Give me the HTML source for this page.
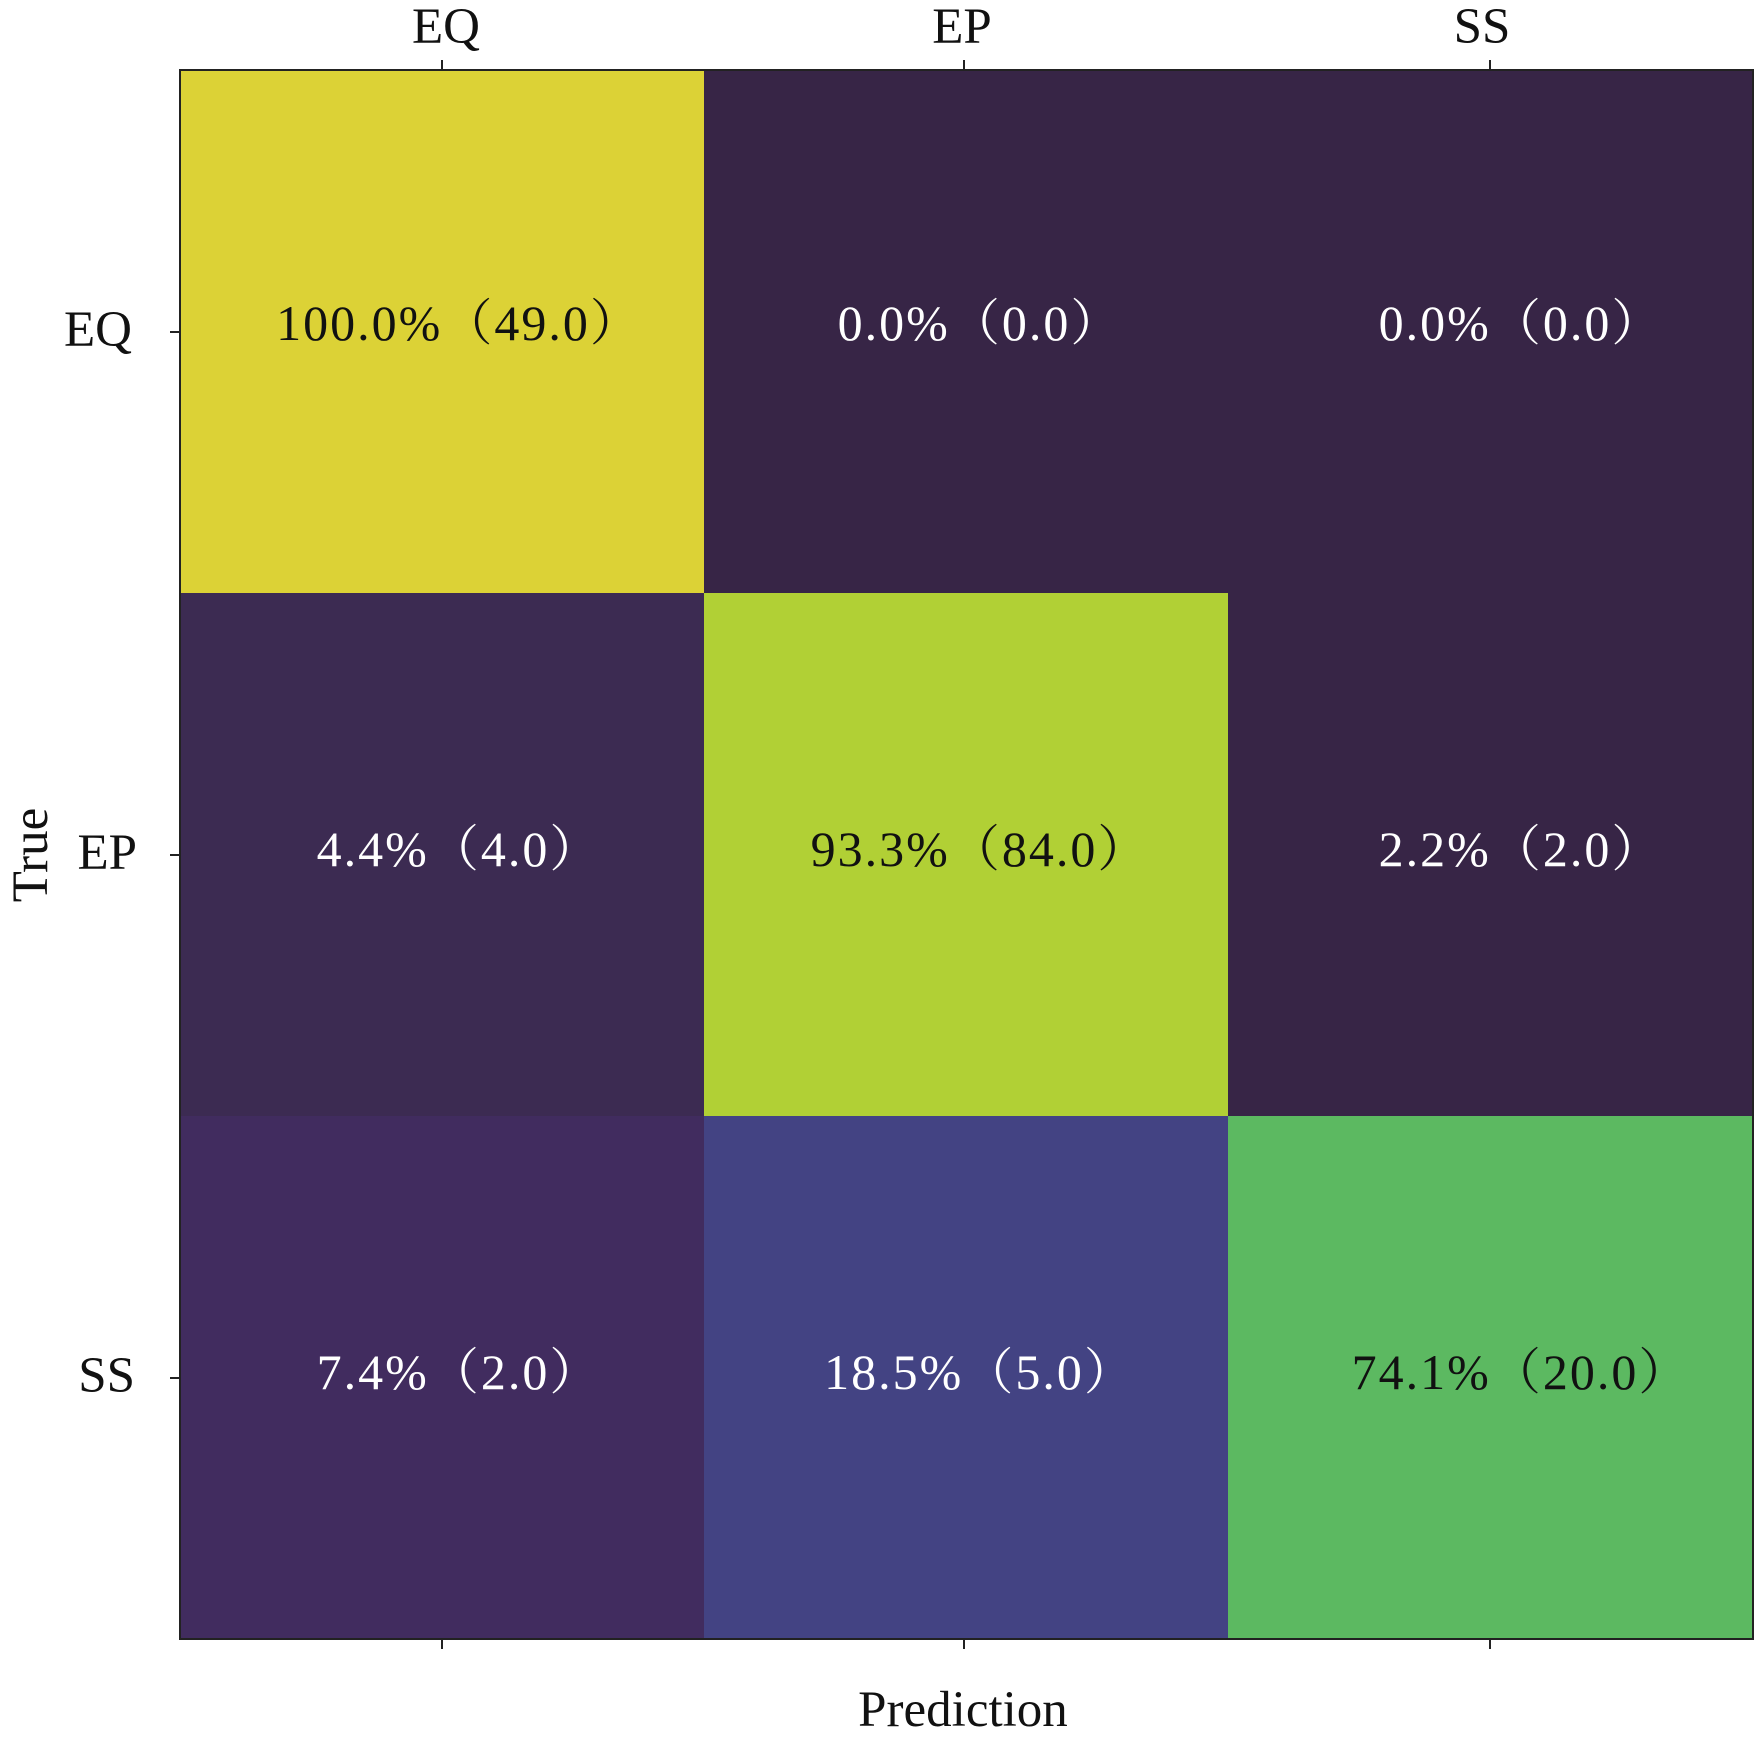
<!DOCTYPE html>
<html><head><meta charset="utf-8"><style>html,body{margin:0;padding:0;background:#fff;}svg{display:block}</style></head>
<body>
<svg width="1757" height="1742" viewBox="0 0 1757 1742" xmlns="http://www.w3.org/2000/svg" font-family="'Liberation Serif','Noto Serif CJK SC',serif">
<rect x="180" y="70" width="525" height="524" fill="#dcd236"/>
<rect x="704" y="70" width="525" height="524" fill="#372546"/>
<rect x="1228" y="70" width="525" height="524" fill="#372546"/>
<rect x="180" y="593" width="525" height="524" fill="#3c2b52"/>
<rect x="704" y="593" width="525" height="524" fill="#b1d035"/>
<rect x="1228" y="593" width="525" height="524" fill="#372546"/>
<rect x="180" y="1116" width="525" height="524" fill="#412c5f"/>
<rect x="704" y="1116" width="525" height="524" fill="#434383"/>
<rect x="1228" y="1116" width="525" height="524" fill="#5cb961"/>
<rect x="180" y="70" width="1573" height="1569" fill="none" stroke="#222" stroke-width="2"/>
<g stroke="#222" stroke-width="2">
<line x1="442" y1="60" x2="442" y2="70"/><line x1="964" y1="60" x2="964" y2="70"/><line x1="1490" y1="60" x2="1490" y2="70"/>
<line x1="442" y1="1639" x2="442" y2="1649"/><line x1="964" y1="1639" x2="964" y2="1649"/><line x1="1490" y1="1639" x2="1490" y2="1649"/>
<line x1="170" y1="332" x2="180" y2="332"/><line x1="170" y1="855" x2="180" y2="855"/><line x1="170" y1="1378" x2="180" y2="1378"/>
</g>
<g font-size="51" fill="#111" text-anchor="middle">
<text x="446" y="43">EQ</text><text x="962" y="43">EP</text><text x="1482" y="43">SS</text>
</g>
<g font-size="51" fill="#111" text-anchor="end">
<text x="132" y="346">EQ</text><text x="137" y="869">EP</text><text x="135" y="1392">SS</text>
</g>
<text x="963" y="1726" font-size="51" fill="#111" text-anchor="middle">Prediction</text>
<text transform="translate(47,855) rotate(-90)" font-size="51" fill="#111" text-anchor="middle">True</text>
<g font-size="50" text-anchor="middle" letter-spacing="2">
<text x="459" y="340" fill="#111">100.0%（49.0）</text>
<text x="980" y="340" fill="#fff">0.0%（0.0）</text>
<text x="1521" y="340" fill="#fff">0.0%（0.0）</text>
<text x="459" y="866" fill="#fff">4.4%（4.0）</text>
<text x="980" y="866" fill="#111">93.3%（84.0）</text>
<text x="1521" y="866" fill="#fff">2.2%（2.0）</text>
<text x="459" y="1389" fill="#fff">7.4%（2.0）</text>
<text x="980" y="1389" fill="#fff">18.5%（5.0）</text>
<text x="1521" y="1389" fill="#111">74.1%（20.0）</text>
</g>
</svg>
</body></html>
